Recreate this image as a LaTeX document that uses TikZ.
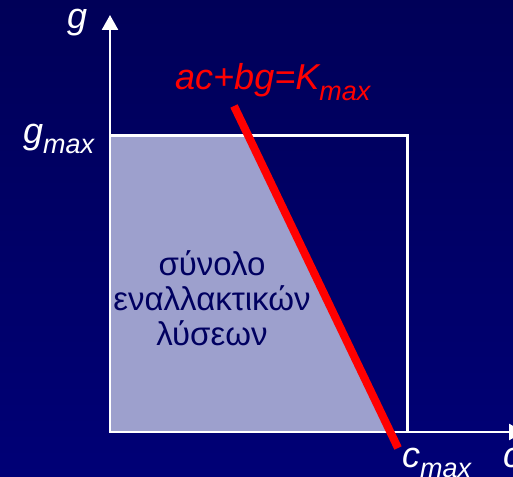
\documentclass[tikz,border=0pt]{standalone}
\usepackage{fontspec}
\setmainfont{Liberation Sans}
\usetikzlibrary{arrows.meta}
\definecolor{bgtop}{RGB}{0,0,118}
\definecolor{bgbot}{RGB}{0,0,88}
\definecolor{regionfill}{RGB}{157,160,205}
\definecolor{greektext}{RGB}{0,0,96}
\tikzset{
  axis/.style={draw=white, line width=2.5pt, -{Triangle[length=15pt,width=16pt]}},
  boxline/.style={draw=white, line width=3pt},
  lbl/.style={inner sep=0pt, anchor=base west, text=white, font=\fontsize{36}{36}\selectfont\itshape},
  redlbl/.style={lbl, text=red},
  greek/.style={align=center, text=greektext, font=\fontsize{33}{35}\selectfont}
}
\newcommand{\subm}{\raisebox{-0.28em}{\fontsize{27}{27}\selectfont max}}
\begin{document}
\begin{tikzpicture}[x=1pt,y=-1pt]
\useasboundingbox (0,0) rectangle (513,476);
\clip (0,0) rectangle (513,476);
\shade[top color=bgbot, bottom color=bgtop] (0,0) rectangle (513,476);
\coordinate (O) at (110,432);
\coordinate (G) at (110,135);
\coordinate (B) at (247,135);
\coordinate (C) at (390,432);
\coordinate (R) at (407,135);
\coordinate (S) at (407,432);
\fill[regionfill] (O) -- (G) -- (B) -- (C) -- cycle;
\draw[boxline] (G) -- (R) -- (S);
\coordinate (yend) at (110,15);
\coordinate (xend) at (524,432);
\draw[axis] (O) -- (yend);
\draw[axis] ([xshift=-1.25pt]O) -- (xend);
\coordinate (r1) at (234,106);
\coordinate (r2) at (398,448);
\draw[red, line width=8pt] (r1) -- (r2);
\node[redlbl] (eq) at (175,90) {ac+bg=K\subm};
\node[lbl] (glab) at (67,29) {g};
\node[lbl] (gmax) at (23,143) {g\subm};
\node[lbl] (cmax) at (402,467) {c\subm};
\node[lbl] (clab) at (503,467) {c};
\node[greek] (set) at (212,298) {σύνολο\\εναλλακτικών\\λύσεων};
\end{tikzpicture}
\end{document}
